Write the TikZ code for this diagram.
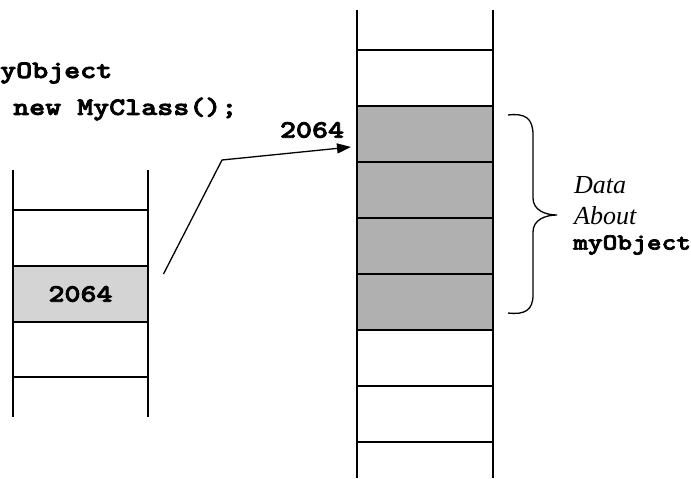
\documentclass[tikz,border=0pt]{standalone}
\usepackage{fontspec}
\setmainfont{Liberation Serif}
% heavy typewriter face, set a little wider than usual
\newfontfamily\codefont{lmmonolt10-bold.otf}[FakeStretch=1.22, FakeBold=3]
\usetikzlibrary{arrows.meta,calc}
\definecolor{slotlight}{HTML}{D4D4D4}
\definecolor{slotdark}{HTML}{B0B0B0}
\tikzset{
  wall/.style={line width=1.6pt},
  slot/.style={wall, minimum width=136pt, minimum height=56pt, inner sep=0pt, outer sep=0pt},
  code/.style={font=\fontsize{25}{28}\selectfont\codefont, inner sep=0pt},
  note/.style={font=\fontsize{26}{30}\selectfont\itshape, inner sep=0pt, anchor=west},
  pointer/.style={line width=1.3pt, -{Triangle[length=14pt,width=10pt]}},
}
\begin{document}
\begin{tikzpicture}[x=1pt,y=-1pt]
\useasboundingbox (0,0) rectangle (691,479);

% code fragment at the top left
\node[code, anchor=west] (decl) at (0,73) {yObject};
\node[code, anchor=west] (init) at (13,109) {new MyClass();};

% stack holding the reference
\node[slot, fill=slotlight, draw] (ref) at (80.5,294) {};
\node[code] at (ref.center) {2064};
\draw[wall] (13,170) -- (13,417);
\draw[wall] (148,170) -- (148,417);
\foreach \y in {210,377} \draw[wall] (13,\y) -- (148,\y);

% heap memory
\foreach \i/\y in {1/134,2/190,3/246,4/302}
  \node[slot, fill=slotdark, draw] (obj\i) at (425,\y) {};
\draw[wall] (357,10) -- (357,478);
\draw[wall] (493,10) -- (493,478);
\foreach \y in {50,386,442} \draw[wall] (357,\y) -- (493,\y);

% pointer from the reference to the object
\node[code] (addr) at (312,130) {2064};
\coordinate (start) at ($(ref.east)+(15,-20)$);
\coordinate (bend) at (222,160);
\coordinate (tip) at ($(obj1.west)+(-6,13)$);
\draw[pointer] (start) -- (bend) -- (tip);

% brace over the object's slots
\coordinate (btop) at ($(obj1.north east)+(15,9)$);
\coordinate (bbot) at ($(obj4.south east)+(15,-17)$);
\coordinate (bmid) at (557,215);
\draw[line width=1.3pt] (btop) .. controls (525,113) and (533,118) .. (533,135)
  -- (533,198) .. controls (533,210) and (545,215) .. (bmid)
  .. controls (545,215) and (533,220) .. (533,232)
  -- (533,295) .. controls (533,310) and (525,315) .. (bbot);

% label for the brace
\node[note] (l1) at (574,185) {Data};
\node[note] (l2) at (574,216) {About};
\node[code, font=\fontsize{23}{28}\selectfont\codefont, anchor=west] (l3) at (573,245) {myObject};
\end{tikzpicture}
\end{document}
